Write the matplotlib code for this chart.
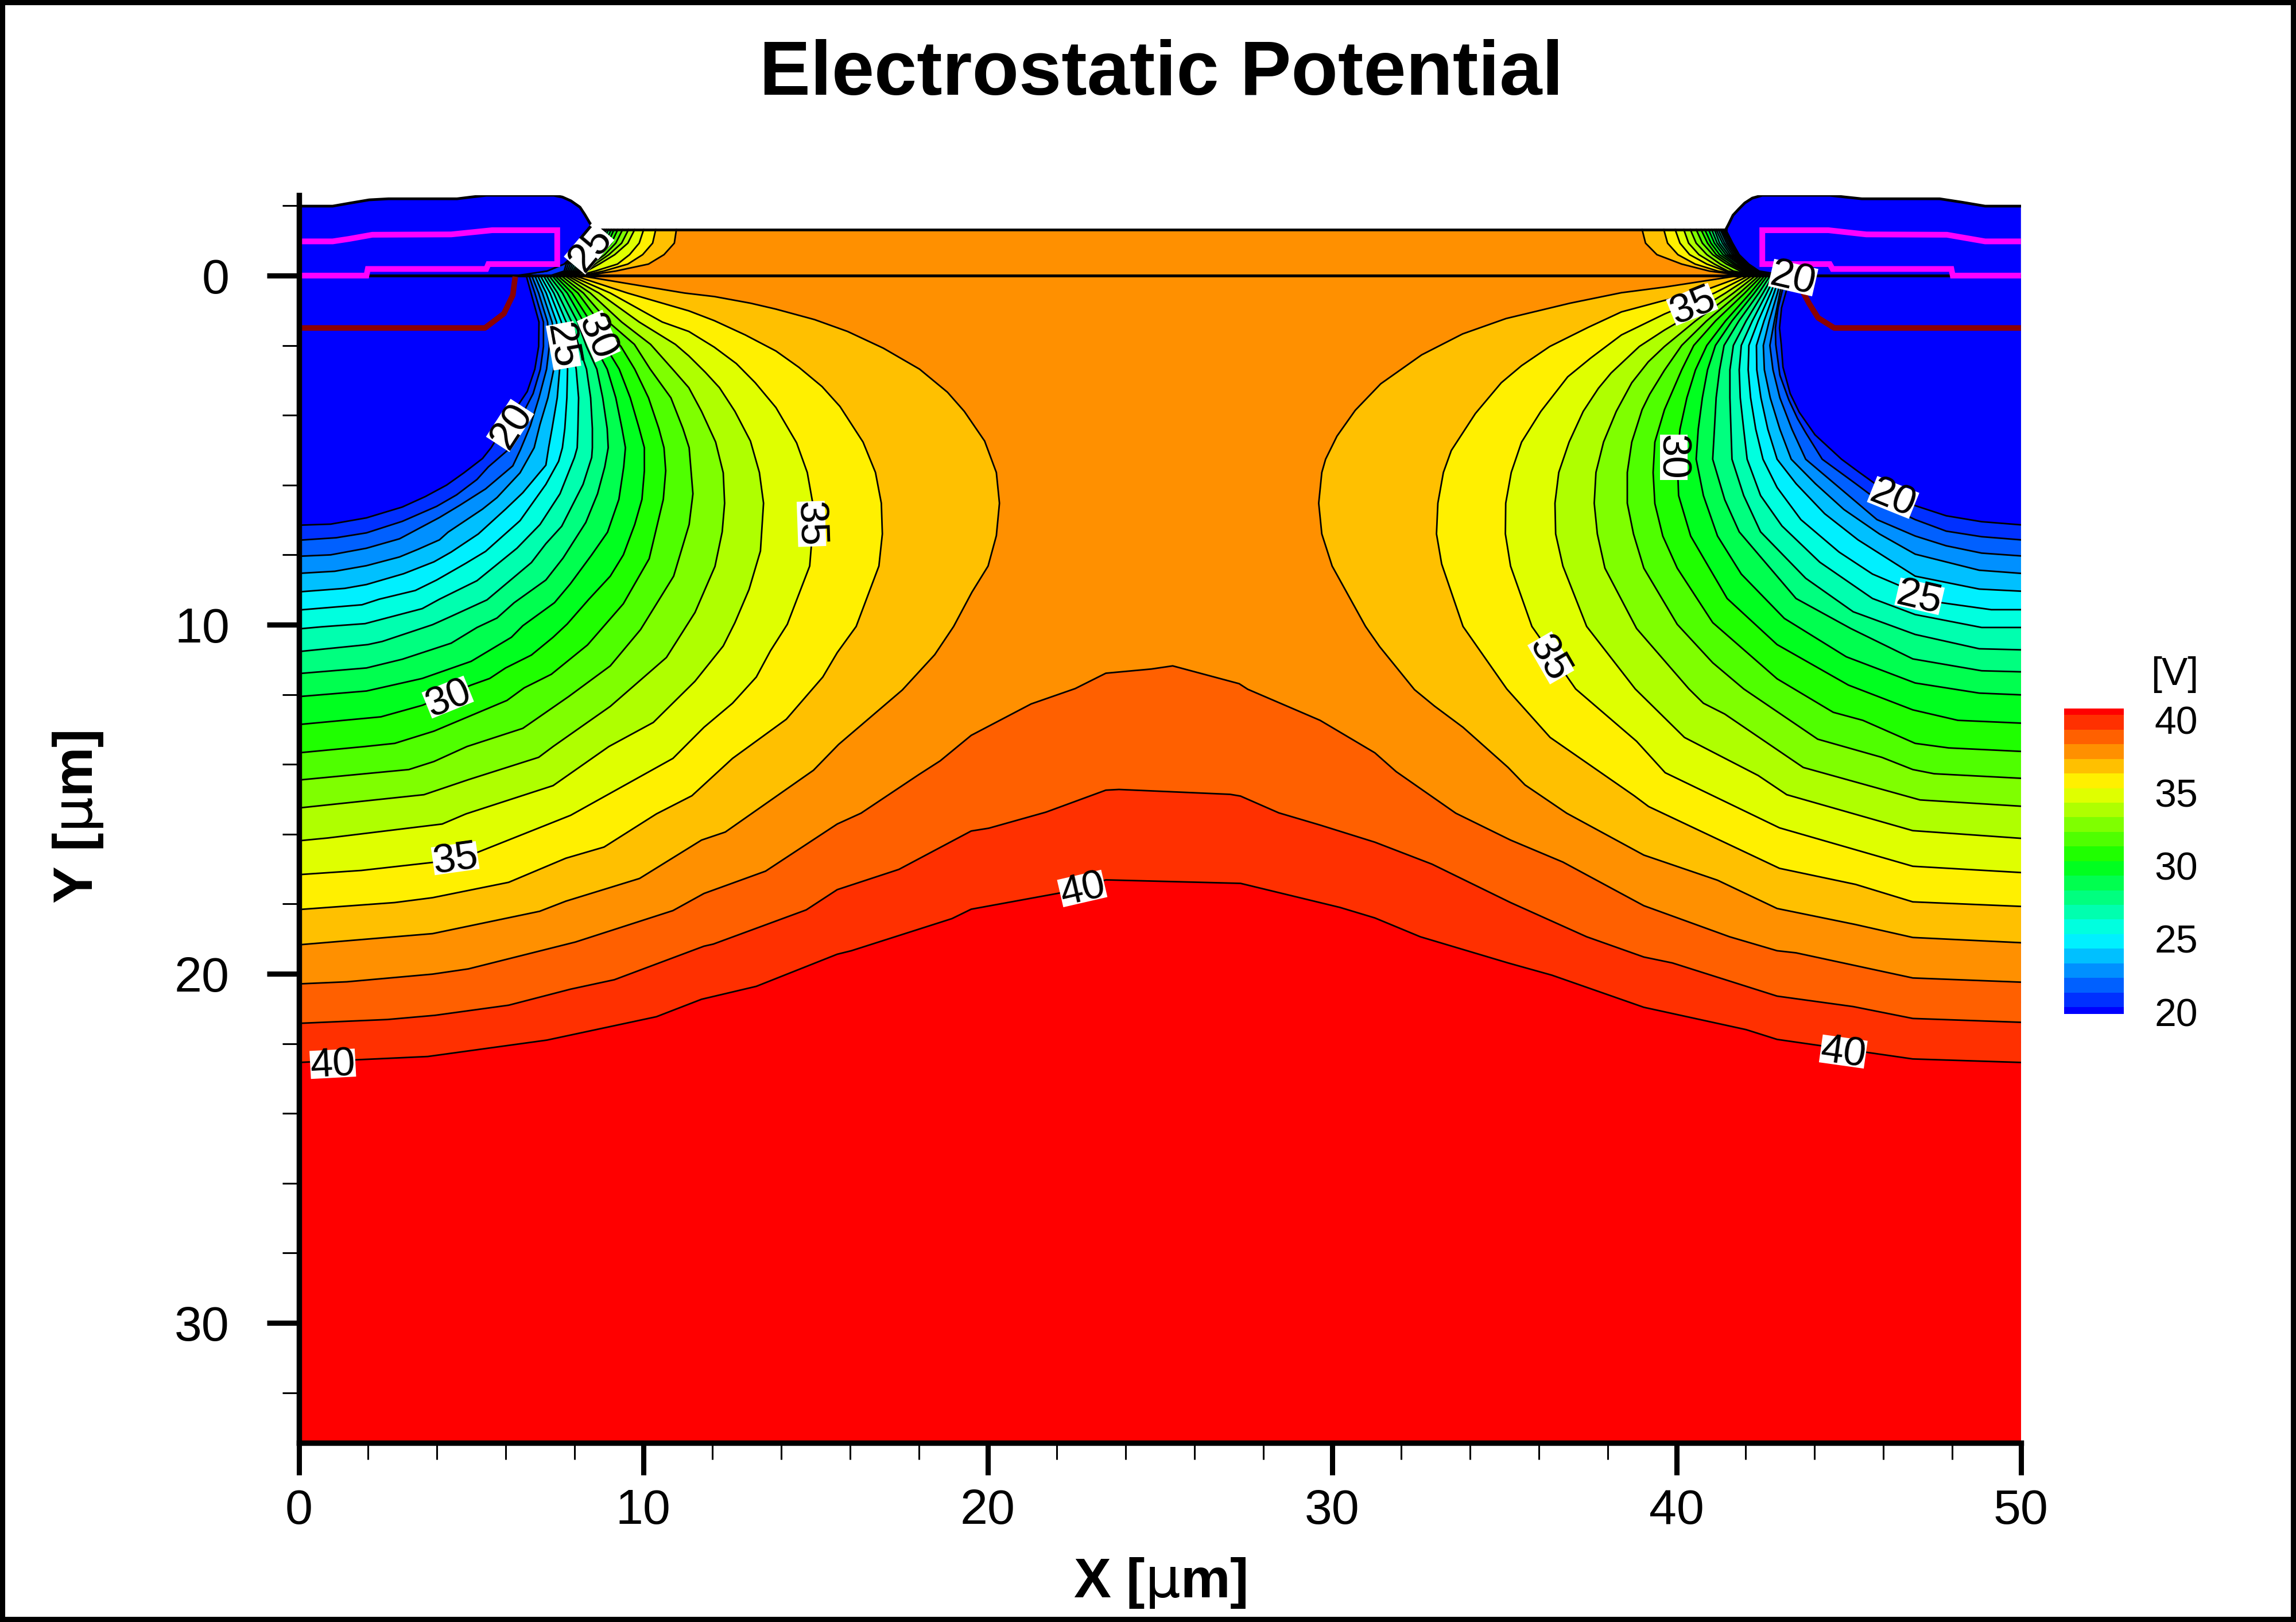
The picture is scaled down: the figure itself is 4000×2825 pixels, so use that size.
import numpy as np
import matplotlib
matplotlib.use("Agg")
import matplotlib.pyplot as plt
from matplotlib.colors import ListedColormap
from matplotlib.patches import Rectangle
from matplotlib.path import Path

plt.rcParams['font.family'] = ['Liberation Sans', 'DejaVu Sans']
plt.rcParams['mathtext.fontset'] = 'dejavusans'

# contour levels and band colours (below 20 ... above 40)
levels = list(range(20, 41))
band_colors = ['#0000FF', '#0030FF', '#0060FF', '#0090FF', '#00C0FF', '#00F0FF',
               '#00FFDF', '#00FFAF', '#00FF7F', '#00FF4F', '#00FF1F',
               '#1FFF00', '#4FFF00', '#7FFF00', '#AFFF00', '#DFFF00',
               '#FFF000', '#FFC000', '#FF9000', '#FF6000', '#FF3000', '#FF0000']

# iso-potential lines in the silicon, left pocket (x um, y um), surface to x=0
left_20 = [(6.60,0),(6.74,.5),(6.97,1.33),(6.96,2.03),(6.85,2.68),(6.63,3.32),(6.2,3.95),(5.58,4.93),(5.33,5.24),(4.79,5.65),(4.29,6.0),(3.67,6.33),(3.0,6.63),(1.96,6.94),(.92,7.12),(0,7.15)]
left_21 = [(6.68,0),(6.85,.5),(7.10,1.33),(7.10,2.03),(7.01,2.68),(6.80,3.38),(6.46,4.03),(6.25,4.62),(6.04,5.02),(5.5,5.48),(5.17,5.84),(4.58,6.28),(4.0,6.61),(3.0,7.04),(1.96,7.37),(1.08,7.51),(0,7.58)]
left_22 = [(6.76,0),(6.96,.5),(7.22,1.33),(7.27,2.03),(7.19,2.68),(6.97,3.5),(6.72,4.3),(6.43,4.99),(6.21,5.45),(5.42,6.11),(4.67,6.58),(4.08,6.93),(2.92,7.54),(1.96,7.81),(.92,8.0),(0,8.04)]
left_23 = [(6.85,0),(7.07,.5),(7.35,1.33),(7.47,2.03),(7.40,2.68),(7.23,3.5),(7.0,4.26),(6.83,4.93),(6.42,5.65),(5.75,6.36),(5.33,6.69),(4.33,7.35),(4.08,7.57),(3.46,7.84),(2.92,8.06),(1.96,8.31),(1.04,8.47),(0,8.53)]
left_24 = [(6.93,0),(7.18,.5),(7.48,1.33),(7.58,2.03),(7.57,2.68),(7.50,3.5),(7.35,4.38),(7.25,4.93),(7.17,5.43),(6.5,6.22),(6.0,6.69),(5.21,7.4),(4.42,7.92),(3.92,8.2),(3.04,8.54),(1.96,8.85),(1.33,8.96),(0,9.06)]
left_25 = [(7.01,0),(7.29,.5),(7.62,1.33),(7.74,2.03),(7.80,2.68),(7.78,3.5),(7.72,4.38),(7.65,4.93),(7.54,5.32),(7.17,5.98),(6.42,7.02),(5.42,7.9),(4.83,8.25),(4.0,8.72),(3.38,9.02),(2.33,9.27),(1.83,9.43),(0,9.58)]
left_26 = [(7.10,0),(7.40,.5),(7.76,1.33),(7.93,2.03),(8.05,2.68),(8.12,3.5),(8.10,4.38),(8.08,4.93),(8.0,5.21),(7.58,6.25),(7.0,7.13),(6.33,7.81),(5.17,8.74),(4.08,9.27),(3.58,9.54),(1.92,9.97),(.67,10.06),(0,10.12)]
left_27 = [(7.18,0),(7.51,.5),(7.92,1.33),(8.13,2.03),(8.35,2.68),(8.47,3.5),(8.52,4.38),(8.52,4.93),(8.5,5.21),(8.25,5.98),(7.63,7.18),(7.17,7.68),(6.75,8.22),(5.46,9.29),(4.42,9.76),(3.88,10.0),(2.42,10.48),(2.0,10.57),(0,10.77)]
left_28 = [(7.26,0),(7.65,.5),(8.09,1.33),(8.35,2.03),(8.65,2.68),(8.82,3.5),(8.95,4.38),(8.98,4.93),(8.88,5.48),(8.67,6.25),(8.33,7.07),(7.67,8.09),(7.17,8.72),(6.25,9.37),(5.75,9.81),(5.17,10.08),(4.42,10.53),(3.0,10.99),(1.96,11.24),(0,11.4)]
left_29 = [(7.35,0),(7.79,.5),(8.27,1.33),(8.60,2.03),(8.95,2.68),(9.20,3.5),(9.38,4.38),(9.48,4.93),(9.43,5.48),(9.29,6.41),(8.96,7.35),(8.5,8.0),(7.88,8.83),(7.42,9.37),(6.5,10.03),(6.17,10.36),(5.0,11.05),(3.58,11.54),(1.96,11.9),(0,12.06)]
left_30 = [(7.43,0),(7.93,.5),(8.47,1.33),(8.90,2.03),(9.30,2.68),(9.62,3.5),(9.88,4.38),(10.03,4.93),(10.03,5.59),(9.96,6.41),(9.75,7.13),(9.42,8.0),(9.04,8.61),(8.42,9.27),(7.79,9.98),(7.38,10.36),(6.75,10.87),(6.0,11.24),(5.54,11.54),(5.0,11.73),(3.58,12.31),(2.38,12.64),(0,12.86)]
left_31 = [(7.51,0),(8.10,.5),(8.72,1.33),(9.35,2.03),(9.75,2.68),(10.15,3.5),(10.45,4.38),(10.6,4.93),(10.65,5.59),(10.58,6.41),(10.17,8.11),(9.42,9.40),(8.38,10.58),(7.33,11.42),(6.54,11.81),(6.04,12.17),(3.92,13.05),(2.78,13.40),(1.92,13.49),(0,13.67)]
left_32 = [(7.61,0),(8.26,.5),(8.99,1.33),(9.74,1.97),(10.2,2.68),(10.8,3.5),(11.15,4.38),(11.33,4.93),(11.44,6.25),(11.33,7.13),(10.88,8.61),(9.92,10.14),(9.04,11.18),(7.83,12.06),(6.5,12.97),(4.88,13.49),(3.92,13.92),(3.19,14.15),(0,14.45)]
left_33 = [(7.71,0),(8.46,.5),(9.37,1.33),(10.21,1.97),(10.85,2.68),(11.32,3.21),(11.69,3.89),(12.10,4.77),(12.32,5.65),(12.36,6.52),(12.29,7.34),(12.08,8.33),(11.5,9.65),(10.67,10.94),(9.04,12.34),(7.38,13.49),(6.96,13.80),(4.92,14.44),(3.63,14.87),(0,15.25)]
left_34 = [(7.79,0),(8.71,.5),(9.88,1.33),(10.93,1.97),(11.32,2.30),(11.80,2.77),(12.21,3.21),(12.66,3.89),(13.11,4.74),(13.37,5.64),(13.49,6.52),(13.40,7.89),(13.07,8.99),(12.66,9.94),(12.32,10.61),(11.5,11.62),(10.29,12.8),(9.0,13.49),(7.38,14.61),(4.85,15.42),(4.16,15.71),(.84,16.11),(0,16.19)]
left_35 = [(7.88,0),(9.04,.5),(10.55,1.33),(11.32,1.60),(12.06,2.05),(12.70,2.52),(13.25,3.07),(13.85,3.78),(14.45,4.79),(14.76,5.64),(14.91,6.47),(14.94,7.0),(14.83,8.32),(14.18,9.99),(13.69,10.75),(13.28,11.50),(12.59,12.25),(11.76,12.94),(10.86,13.83),(7.89,15.46),(5.19,16.52),(3.88,16.81),(1.81,17.04),(0,17.16)]
left_36 = [(7.99,0),(9.54,.5),(11.32,1.01),(12.06,1.29),(12.96,1.70),(13.85,2.16),(14.52,2.63),(15.19,3.18),(15.71,3.75),(16.38,4.77),(16.74,5.64),(16.91,6.52),(16.94,7.40),(16.84,8.32),(16.18,10.05),(15.63,10.80),(15.21,11.50),(14.15,12.71),(12.59,13.83),(11.41,14.90),(10.38,15.42),(8.86,16.37),(7.75,16.69),(6.09,17.38),(3.88,17.82),(2.78,17.96),(0,18.16)]
left_37 = [(8.15,0),(11.2,.5),(12.06,.60),(13.11,.79),(13.85,.96),(14.97,1.26),(15.93,1.60),(16.97,2.08),(18.02,2.68),(18.83,3.34),(19.32,3.89),(19.91,4.74),(20.25,5.64),(20.34,6.52),(20.25,7.45),(20.01,8.32),(19.54,9.07),(19.01,10.05),(18.46,10.86),(17.52,11.87),(15.67,13.43),(14.94,14.17),(12.38,15.94),(11.69,16.17),(9.89,17.27),(7.75,17.92),(6.99,18.21),(3.88,18.85),(0,19.17)]

# same for the right pocket, surface to x=50
right_20 = [(43.26,0),(43.2,.39),(43.05,.92),(42.99,1.5),(43.04,1.97),(43.09,2.62),(43.30,3.38),(43.56,3.91),(44.02,4.56),(44.79,5.26),(45.27,5.61),(46.1,6.2),(46.93,6.59),(47.83,6.88),(48.86,7.05),(50,7.14)]
right_21 = [(43.19,0),(43.08,.39),(42.95,.92),(42.87,1.5),(42.88,1.97),(43.0,2.85),(43.26,3.56),(43.51,4.09),(43.75,4.5),(44.23,5.26),(45.2,5.96),(46.0,6.55),(46.93,6.99),(47.83,7.32),(48.86,7.48),(50,7.57)]
right_22 = [(43.12,0),(43.0,.5),(42.84,1.3),(42.71,2),(42.8,2.7),(43.0,3.5),(43.35,4.4),(43.75,5.26),(44.72,6.07),(45.82,6.99),(46.93,7.46),(47.83,7.74),(48.86,7.95),(50,8.03)]
right_23 = [(43.06,0),(42.93,.5),(42.69,1.3),(42.52,2),(42.55,2.7),(42.72,3.5),(43.0,4.4),(43.33,5.26),(44.03,5.96),(44.86,6.70),(45.89,7.40),(46.93,7.98),(48.79,8.44),(50,8.53)]
right_24 = [(43.0,0),(42.83,.5),(42.54,1.3),(42.32,2),(42.33,2.7),(42.45,3.5),(42.65,4.4),(42.92,5.26),(43.47,5.96),(44.30,6.82),(45.27,7.57),(46.93,8.61),(48.79,8.98),(50,9.04)]
right_25 = [(42.94,0),(42.73,.5),(42.37,1.3),(42.1,2),(42.08,2.7),(42.15,3.5),(42.3,4.4),(42.51,5.26),(42.92,6.07),(43.61,6.99),(44.72,7.92),(45.69,8.55),(47.62,9.36),(49.14,9.57),(50,9.57)]
right_26 = [(42.87,0),(42.62,.5),(42.2,1.3),(41.88,2),(41.82,2.7),(41.85,3.5),(41.95,4.4),(42.05,5.26),(42.44,6.30),(43.06,7.17),(44.16,8.21),(45.69,9.25),(46.93,9.71),(48.86,10.08),(50,10.08)]
right_27 = [(42.8,0),(42.51,.5),(42.02,1.3),(41.65,2),(41.55,2.7),(41.55,3.5),(41.58,4.4),(41.61,5.26),(41.95,6.30),(42.44,7.34),(43.75,8.67),(45.13,9.63),(46.93,10.28),(48.79,10.69),(50,10.72)]
right_28 = [(42.72,0),(42.39,.5),(41.81,1.3),(41.38,2),(41.25,2.7),(41.15,3.5),(41.1,4.4),(41.05,5.26),(41.40,6.42),(41.82,7.34),(43.47,9.25),(45.06,10.11),(46.86,10.98),(48.86,11.32),(50,11.35)]
right_29 = [(42.64,0),(42.26,.5),(41.61,1.3),(41.13,2),(40.9,2.7),(40.75,3.5),(40.63,4.4),(40.57,5.26),(40.78,6.30),(41.19,7.46),(41.88,8.55),(43.13,9.82),(44.93,10.92),(46.93,11.67),(48.79,11.96),(50,12.01)]
right_30 = [(42.56,0),(42.14,.5),(41.42,1.3),(40.88,2),(40.55,2.7),(40.3,3.5),(40.1,4.4),(40.02,5.26),(40.06,6.30),(40.41,7.46),(41.47,9.25),(42.92,10.57),(44.99,11.73),(46.86,12.44),(48.17,12.74),(50,12.82)]
right_31 = [(42.48,0),(41.98,.5),(41.13,1.3),(40.5,2),(40.15,2.7),(39.65,3.84),(39.37,4.77),(39.32,5.64),(39.37,6.53),(39.60,7.46),(40.02,8.38),(41.05,9.94),(42.92,11.55),(44.55,12.51),(45.41,12.74),(46.93,13.40),(47.90,13.53),(50,13.63)]
right_32 = [(42.4,0),(41.83,.5),(40.87,1.3),(40.15,2),(39.65,2.71),(39.22,3.40),(39.0,3.84),(38.70,4.77),(38.57,5.64),(38.57,6.52),(38.75,7.40),(39.05,8.38),(40.02,9.99),(41.05,11.09),(41.95,11.84),(44.1,13.28),(45.96,13.80),(46.86,14.15),(47.48,14.27),(50,14.40)]
right_33 = [(42.3,0),(41.65,.5),(40.55,1.3),(39.65,2.03),(39.18,2.47),(38.70,3.07),(38.25,3.89),(37.88,4.77),(37.66,5.64),(37.61,6.52),(37.70,7.40),(37.92,8.38),(38.84,10.11),(40.36,11.84),(40.78,12.25),(41.40,12.56),(43.68,14.09),(47.07,15.02),(50,15.20)]
right_34 = [(42.2,0),(41.42,.5),(40.1,1.3),(39.65,1.56),(38.92,2.03),(38.10,2.79),(37.73,3.23),(37.29,3.89),(36.88,4.77),(36.58,5.64),(36.47,6.52),(36.49,7.40),(36.70,8.32),(37.39,10.05),(38.80,11.84),(40.23,13.23),(42.37,14.32),(43.20,14.87),(46.86,15.90),(50,16.12)]
right_35 = [(42.1,0),(41.1,.5),(39.65,1.10),(38.40,1.70),(37.51,2.36),(36.84,2.90),(36.06,3.89),(35.50,4.77),(35.20,5.64),(35.04,6.52),(35.03,7.40),(35.18,8.32),(35.80,10.05),(36.42,10.92),(37.07,11.84),(38.84,13.34),(39.67,14.24),(42.99,15.82),(46.86,16.92),(50,17.10)]
right_36 = [(41.97,0),(40.6,.5),(39.65,.71),(38.40,1.04),(37.44,1.48),(36.32,2.03),(35.50,2.58),(34.91,3.07),(34.16,3.95),(33.46,5.01),(33.23,5.64),(33.07,6.52),(33.03,7.40),(33.18,8.26),(33.80,10.05),(35.07,11.84),(36.33,13.23),(38.77,14.90),(39.19,15.21),(42.99,16.98),(45.20,17.44),(46.86,17.94),(50,18.07)]
right_37 = [(41.82,0),(39.65,.33),(38.40,.49),(36.91,.79),(35.05,1.23),(33.79,1.67),(32.60,2.27),(31.41,3.10),(30.67,3.86),(30.14,4.60),(29.81,5.26),(29.70,5.64),(29.61,6.52),(29.70,7.40),(30.0,8.32),(30.97,10.05),(31.38,10.63),(32.39,11.86),(32.97,12.33),(33.80,12.94),(35.11,14.09),(35.60,14.59),(36.81,15.40),(39.05,16.60),(41.19,17.32),(42.92,18.13),(45.20,18.59),(46.86,18.96),(50,19.11)]

# the three lines that run across the whole width
span_38 = [(0,20.29),(1.39,20.23),(3.88,20.01),(4.92,19.86),(8.03,19.09),(10.86,18.19),(11.76,17.70),(13.55,17.06),(15.63,15.71),(16.32,15.40),(17.99,14.30),(18.62,13.90),(19.52,13.17),(21.26,12.27),(22.54,11.83),(23.43,11.39),(24.75,11.27),(25.37,11.18),(27.30,11.69),(27.55,11.85),(29.65,12.74),(31.24,13.67),(31.86,14.21),(33.59,15.40),(35.18,16.17),(36.70,16.80),(39.05,18.05),(41.54,18.94),(42.92,19.34),(43.47,19.40),(46.86,20.12),(50,20.24)]
span_39 = [(0,21.42),(2.57,21.31),(3.95,21.19),(6.09,20.90),(7.89,20.44),(9.16,20.17),(11.76,19.21),(12.03,19.15),(14.73,18.17),(15.63,17.59),(17.42,17.01),(19.52,15.91),(20.03,15.83),(21.69,15.37),(23.43,14.74),(23.81,14.72),(27.04,14.86),(27.34,14.91),(28.45,15.39),(29.65,15.74),(31.24,16.23),(32.90,16.86),(35.18,17.96),(37.39,18.94),(39.05,19.52),(39.88,19.69),(42.92,20.64),(45.13,20.94),(46.86,21.28),(50,21.39)]
span_40 = [(0,22.54),(3.74,22.37),(7.20,21.90),(10.38,21.23),(11.69,20.73),(13.28,20.36),(15.63,19.44),(16.04,19.34),(18.96,18.42),(19.52,18.15),(22.07,17.69),(23.43,17.31),(27.34,17.41),(30.23,18.10),(31.24,18.40),(32.56,18.94),(35.11,19.69),(36.38,20.04),(39.05,20.96),(42.02,21.60),(42.92,21.88),(46.86,22.44),(50,22.54)]

# lines inside the oxide, x at the depths in oxide_y, one row per level 20..37
oxide_y = [-1.32, -.93, -.6, -.33, -.13, 0]
oxide_left_x = [
    [8.60,8.30,7.98,7.70,7.20,6.30],[8.64,8.35,8.04,7.76,7.70,7.30],[8.68,8.40,8.10,7.82,7.75,7.40],
    [8.72,8.46,8.16,7.88,7.80,7.45],[8.77,8.52,8.23,7.94,7.85,7.50],[8.82,8.58,8.30,8.00,7.90,7.55],
    [8.87,8.65,8.37,8.07,7.95,7.60],[8.93,8.72,8.44,8.13,8.00,7.65],[8.99,8.80,8.52,8.20,8.05,7.70],
    [9.07,8.88,8.60,8.28,8.10,7.75],[9.15,8.97,8.68,8.35,8.15,7.80],[9.26,9.07,8.77,8.42,8.20,7.85],
    [9.40,9.20,8.88,8.50,8.25,7.90],[9.57,9.37,9.00,8.60,8.30,7.95],[9.75,9.55,9.17,8.72,8.35,8.00],
    [10.01,9.88,9.60,9.25,8.60,8.10],[10.36,10.27,9.98,9.55,8.85,8.20],[10.96,10.90,10.60,10.15,9.20,8.30]]
oxide_right_x = [
    [41.43,41.63,41.82,42.10,42.40,43.00],[41.39,41.59,41.79,42.08,42.38,42.95],[41.35,41.55,41.76,42.06,42.36,42.90],
    [41.31,41.50,41.72,42.03,42.33,42.85],[41.27,41.45,41.67,42.00,42.30,42.80],[41.21,41.39,41.62,41.97,42.26,42.75],
    [41.15,41.33,41.56,41.92,42.22,42.70],[41.10,41.25,41.50,41.86,42.18,42.65],[41.02,41.18,41.43,41.80,42.13,42.60],
    [40.93,41.10,41.35,41.72,42.07,42.55],[40.82,41.00,41.25,41.65,42.00,42.50],[40.71,40.90,41.15,41.55,41.95,42.45],
    [40.57,40.75,41.05,41.45,41.85,42.40],[40.40,40.57,40.88,41.27,41.65,42.30],[40.21,40.35,40.65,41.10,41.49,42.20],
    [39.96,40.10,40.38,40.88,41.43,42.10],[39.63,39.74,40.04,40.54,41.20,42.00],[39.00,39.10,39.43,40.15,40.95,41.90]]

# device outline: top surface, then the side facing the oxide
top_left = [(0,-1.99),(.98,-1.99),(1.5,-2.08),(2.04,-2.17),(2.6,-2.2),(4.59,-2.2),(5.0,-2.25),(5.44,-2.30),(7.4,-2.30),(7.65,-2.25),(7.9,-2.14),(8.16,-1.96),(8.3,-1.75),(8.45,-1.5),(8.6,-1.32)]
side_left = [(8.6,-1.32),(8.3,-.93),(7.98,-.6),(7.7,-.33),(7.2,-.13),(6.6,-.04),(6.3,0)]
top_right = [(50,-1.99),(48.96,-1.99),(48.3,-2.1),(47.64,-2.2),(45.38,-2.2),(44.9,-2.25),(44.45,-2.30),(42.49,-2.30),(42.2,-2.22),(41.98,-2.08),(41.8,-1.9),(41.64,-1.73),(41.5,-1.45),(41.43,-1.32)]
side_right = [(41.43,-1.32),(41.63,-.93),(41.82,-.6),(42.1,-.33),(42.4,-.13),(42.71,-.08),(43.15,-.04),(43.7,0)]
oxide_top = -1.32
oxide_left_end = 8.6
oxide_right_end = 41.43

# metal (magenta) and junction (dark red) traces
metal_left = [(0,-.98),(.98,-.98),(1.45,-1.05),(2.13,-1.17),(4.42,-1.18),(5.61,-1.30),(7.5,-1.30),(7.5,-.33),(5.5,-.33),(5.44,-.19),(2.0,-.19),(1.96,0),(0,0)]
metal_right = [(50,-.98),(48.96,-.98),(47.85,-1.17),(45.51,-1.18),(44.41,-1.30),(42.49,-1.30),(42.49,-.33),(44.45,-.33),(44.53,-.19),(47.98,-.19),(48.02,0),(50,0)]
junction_left = [(0,1.50),(5.40,1.50),(5.95,1.09),(6.21,.56),(6.28,.03)]
junction_right = [(50,1.50),(44.58,1.50),(44.11,1.21),(43.85,.80),(43.67,.47),(43.55,.05)]

# contour labels: x, y, text, angle
label_x = [8.38, 7.74, 8.76, 6.08, 4.30, 4.53, 14.94, .98, 22.73, 40.43, 43.40, 39.98, 46.31, 47.07, 36.4, 44.85]
label_y = [-.82, 2.0, 1.71, 4.26, 12.02, 16.63, 7.11, 22.52, 17.50, .77, 0, 5.2, 6.30, 9.13, 10.92, 22.17]
label_text = ['25', '25', '30', '20', '30', '35', '35', '40', '40', '35', '20', '30', '20', '25', '35', '40']
label_angle = [50, -80, -66, 57, 22, 8, -88, 3, 13, 22, -13, -90, -22, -13, -60, -8]

x_major = [0, 10, 20, 30, 40, 50]
x_minor = list(range(0, 51, 2))
y_major = [0, 10, 20, 30]
y_minor = list(range(-2, 34, 2))
cbar_ticks = [40, 35, 30, 25, 20]

left_curves = [left_20, left_21, left_22, left_23, left_24, left_25, left_26, left_27, left_28,
               left_29, left_30, left_31, left_32, left_33, left_34, left_35, left_36, left_37]
right_curves = [right_20, right_21, right_22, right_23, right_24, right_25, right_26, right_27, right_28,
                right_29, right_30, right_31, right_32, right_33, right_34, right_35, right_36, right_37]
span_curves = [span_38, span_39, span_40]


def digit_box(x0, y0, width, height, mutation_size):
    # white box only as tall as the digits, without the room for descenders
    y1 = y0 + 0.19 * height
    y2 = y0 + 0.93 * height
    return Path([(x0, y1), (x0 + width, y1), (x0 + width, y2), (x0, y2), (x0, y1)], closed=True)


W, H = 4000, 2825
fig = plt.figure(figsize=(W / 100, H / 100), dpi=100)

# axes placed so that x=0 -> 520.8px, x=50 -> 3520.8px, y=0 -> 480px
y_top, y_bot = -2.31, 33.44
px_top = 480 + y_top * 60.8
px_bot = 480 + y_bot * 60.8
ax = fig.add_axes([520.8 / W, 1 - px_bot / H, 3000 / W, (px_bot - px_top) / H])
ax.set_xlim(0, 50)
ax.set_ylim(y_bot, y_top)

# silicon and oxide base
ax.fill([0, 50, 50, 0], [0, 0, y_bot, y_bot], color=band_colors[21], lw=0, zorder=1)
ax.fill([8, 42, 42, 8], [oxide_top, oxide_top, 0, 0], color=band_colors[18], lw=0, zorder=1)

# fill from the deepest line up, each polygon is the region below that level
for lev, pts in zip([40, 39, 38], span_curves[::-1]):
    p = np.array(pts)
    ax.fill(np.r_[p[:, 0], 50, 0], np.r_[p[:, 1], 0, 0], color=band_colors[lev - 20], lw=0, zorder=1)
for i in range(17, -1, -1):
    lev = levels[i]
    p = np.array(left_curves[i])
    ax.fill(np.r_[p[:, 0], 0], np.r_[p[:, 1], 0], color=band_colors[lev - 20], lw=0, zorder=1)
    p = np.array(right_curves[i])
    ax.fill(np.r_[p[:, 0], 50], np.r_[p[:, 1], 0], color=band_colors[lev - 20], lw=0, zorder=1)
    ax.fill(oxide_left_x[i] + [6, 6], oxide_y + [0, oxide_top], color=band_colors[lev - 20], lw=0, zorder=1)
    ax.fill(oxide_right_x[i] + [44, 44], oxide_y + [0, oxide_top], color=band_colors[lev - 20], lw=0, zorder=1)

# contour lines
line_w = 2.0
for pts in left_curves + right_curves + span_curves:
    p = np.array(pts)
    ax.plot(p[:, 0], p[:, 1], color='k', lw=line_w, zorder=2)
for xs in oxide_left_x + oxide_right_x:
    ax.plot(xs, oxide_y, color='k', lw=line_w, zorder=2)

# blue regions over the electrodes
for top, side, end_x in [(top_left, side_left, 0), (top_right, side_right, 50)]:
    p = np.array(top + side + [(end_x, 0)])
    ax.fill(p[:, 0], p[:, 1], color=band_colors[0], lw=0, zorder=3)
    p = np.array(top)
    ax.plot(p[:, 0], p[:, 1], color='k', lw=3.4, zorder=4)
    p = np.array(side)
    ax.plot(p[:, 0], p[:, 1], color='k', lw=line_w, zorder=4)
ax.plot([oxide_left_end, oxide_right_end], [oxide_top, oxide_top], color='k', lw=3.4, zorder=4)
ax.plot([0, 50], [0, 0], color='k', lw=3.6, zorder=4)

for pts in [metal_left, metal_right]:
    p = np.array(pts)
    ax.plot(p[:, 0], p[:, 1], color='#FF00FF', lw=7.2, solid_capstyle='butt', solid_joinstyle='miter', zorder=5)
for pts in [junction_left, junction_right]:
    p = np.array(pts)
    ax.plot(p[:, 0], p[:, 1], color='#8B0000', lw=7, solid_capstyle='butt', zorder=5)

for x, y, s, a in zip(label_x, label_y, label_text, label_angle):
    ax.text(x, y, s, fontsize=51, rotation=a, rotation_mode='anchor', ha='center', va='center_baseline',
            zorder=6, bbox=dict(facecolor='white', edgecolor='none', boxstyle=digit_box))

# axes styling
ax.spines['top'].set_visible(False)
ax.spines['right'].set_visible(False)
ax.spines['left'].set_linewidth(6.8)
ax.spines['bottom'].set_linewidth(6.8)
ax.spines['left'].set_zorder(7)
ax.spines['bottom'].set_zorder(7)
ax.set_xticks(x_major)
ax.set_xticks(x_minor, minor=True)
ax.set_yticks(y_major)
ax.set_yticks(y_minor, minor=True)
ax.tick_params(which='major', direction='out', length=40, width=6.5)
ax.tick_params(which='minor', direction='out', length=21, width=2.2)
ax.tick_params(axis='x', which='major', labelsize=62, pad=17)
ax.tick_params(axis='y', which='major', labelsize=62, pad=47)

fig.text(2023 / W, 1 - 130 / H, 'Electrostatic Potential', fontsize=96, fontweight='bold', ha='center', va='center')
fig.text(2021 / W, 1 - 2757 / H, r'X [$\mathrm{\mu}$m]', fontsize=70, fontweight='bold', ha='center', va='center')
fig.text(136 / W, 1 - 1423 / H, r'Y [$\mathrm{\mu}$m]', fontsize=70, fontweight='bold', ha='center', va='center', rotation=90)

# legend bar
cax = fig.add_axes([3596 / W, 1 - 1766 / H, 104 / W, 532 / H])
edges = [19.53] + levels + [40.45]
cax.pcolormesh([0, 1], edges, np.arange(22).reshape(-1, 1), cmap=ListedColormap(band_colors), vmin=0, vmax=21)
cax.set_axis_off()
for v in cbar_ticks:
    cax.annotate(str(v), xy=(1, v), xycoords='data', xytext=(93, -10.8), textcoords='offset points',
                 fontsize=49, ha='right', va='center', annotation_clip=False)
fig.text(3830 / W, 1 - 1175 / H, '[V]', fontsize=49, ha='right', va='center')

fig.add_artist(Rectangle((0, 0), 1, 1, transform=fig.transFigure, fill=False, edgecolor='k', lw=13))

fig.savefig('out.png', dpi=100)
